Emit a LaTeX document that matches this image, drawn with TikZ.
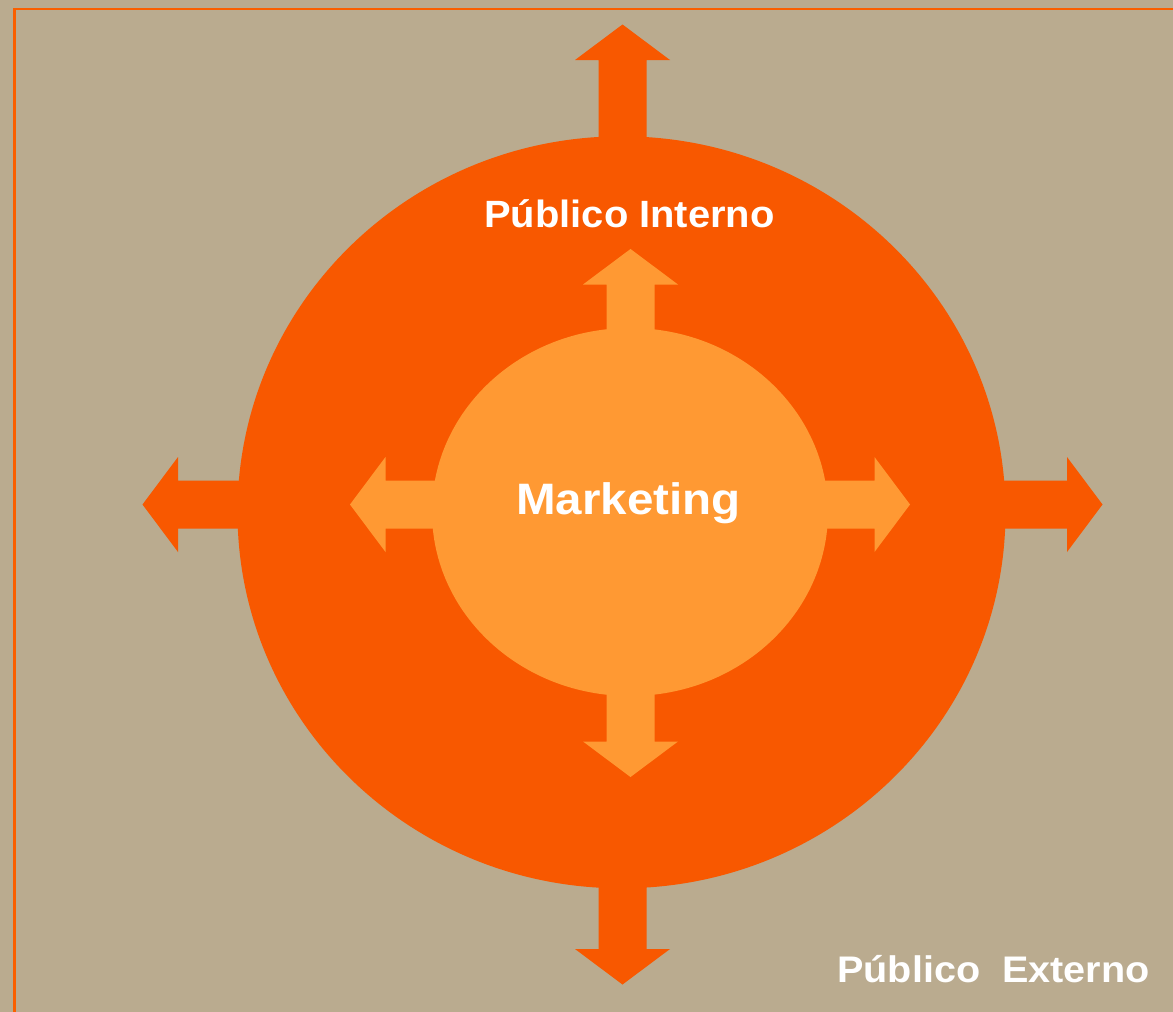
\documentclass[tikz,border=0pt]{standalone}
\usepackage{fontspec}
\setmainfont{Liberation Sans}
\usetikzlibrary{shapes.geometric}
\definecolor{sand}{HTML}{BAAB8F}
\definecolor{deeporange}{HTML}{F85800}
\definecolor{lightorange}{HTML}{FF9933}
\definecolor{frameorange}{HTML}{FA5F00}
\begin{document}
\begin{tikzpicture}[x=1pt,y=-1pt,
  pics/blockarrow/.style={code={
    \path[pic actions] (0,-24) -- ({#1-35.5},-24) -- ({#1-35.5},-47.5) -- (#1,0)
      -- ({#1-35.5},47.5) -- ({#1-35.5},24) -- (0,24) -- cycle;}},
  outerarrow/.style={fill=deeporange},
  innerarrow/.style={fill=lightorange},
  labeltext/.style={text=white, inner sep=0pt, anchor=base}]
% background and page frame
\fill[sand] (0,0) rectangle (1173,1012);
\useasboundingbox (0,0) rectangle (1173,1012);
\coordinate (frameA) at (1173,8.7);
\coordinate (frameB) at (14.3,8.7);
\coordinate (frameC) at (14.3,1012);
\draw[frameorange, line width=2.4pt] (frameA) -- (frameB) -- (frameC);

% outer ring: arrows pointing outwards
\coordinate (oc) at (622.5,504.5);
\pic[outerarrow, rotate=90]  at (oc) {blockarrow=480};
\pic[outerarrow, rotate=270] at (oc) {blockarrow=480};
\pic[outerarrow, rotate=180] at (oc) {blockarrow=480};
\pic[outerarrow, rotate=0]   at (oc) {blockarrow=480};
\node[ellipse, fill=deeporange, inner sep=0pt, outer sep=0pt,
      minimum width=768pt, minimum height=752pt] (outer) at (621.5,512.3) {};

% inner core: arrows pointing outwards
\coordinate (ic) at (630.5,504.5);
\pic[innerarrow, rotate=90]  at (ic) {blockarrow=255.5};
\pic[innerarrow, rotate=270] at (ic) {blockarrow=272.5};
\pic[innerarrow, rotate=180] at (ic) {blockarrow=280.5};
\pic[innerarrow, rotate=0]   at (ic) {blockarrow=279.5};
\node[ellipse, fill=lightorange, inner sep=0pt, outer sep=0pt,
      minimum width=396pt, minimum height=368pt] (inner) at (630,512) {};

% labels
\node[labeltext, font=\bfseries\fontsize{38}{44}\selectfont] (inttxt) at (629.5,227)
  {\scalebox{1.05}[1]{Público Interno}};
\node[labeltext, font=\bfseries\fontsize{44}{50}\selectfont] (mkttxt) at (628.5,514)
  {\scalebox{1.08}[1]{Marketing}};
\node[labeltext, font=\bfseries\fontsize{37}{42}\selectfont] (exttxt) at (993.5,982)
  {\scalebox{1.07}[1]{Público\ \ Externo}};
\end{tikzpicture}
\end{document}
